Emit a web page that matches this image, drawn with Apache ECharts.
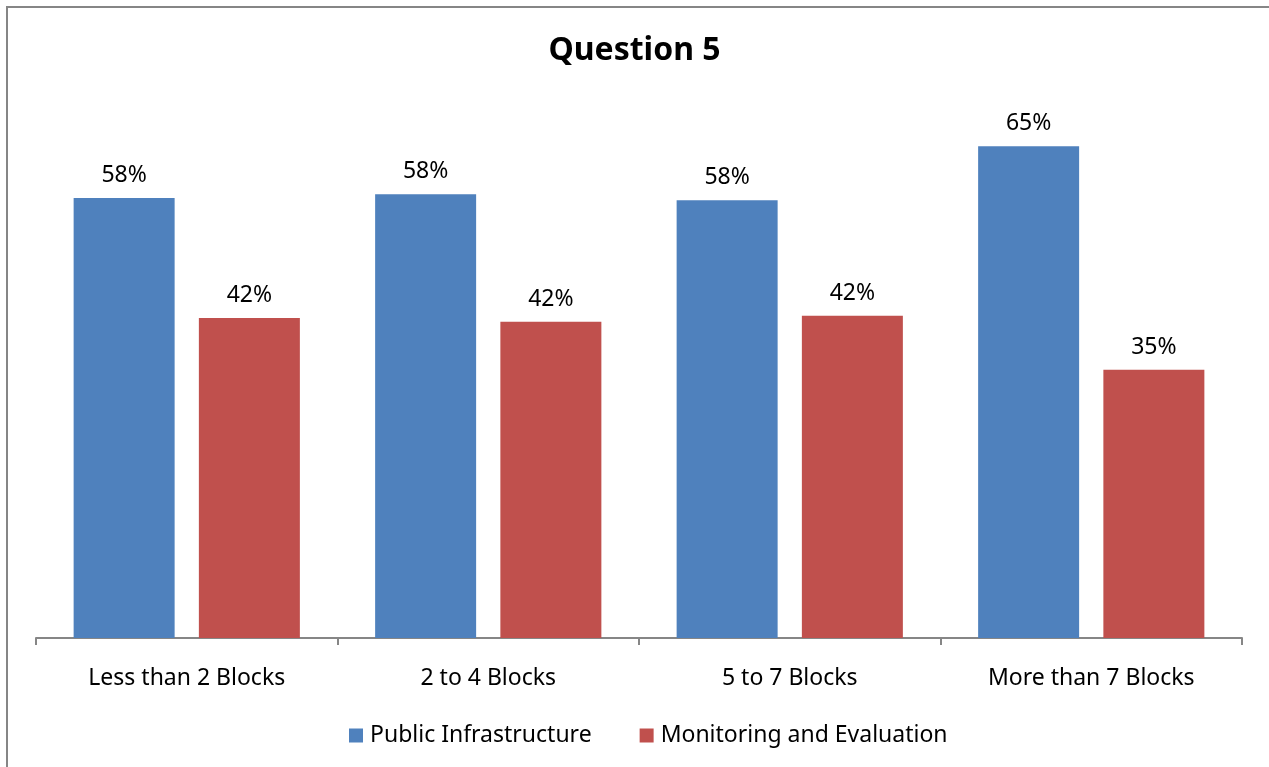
<!DOCTYPE html>
<html>
<head>
<meta charset="utf-8">
<script src="https://cdn.jsdelivr.net/npm/echarts@6/dist/echarts.min.js"></script>
<style>
  html, body { margin: 0; padding: 0; background: #fff; }
  #chart { width: 1269px; height: 767px; }
</style>
</head>
<body>
<div id="chart"></div>
<script>
// categories and series values (percent)
const categories = ['Less than 2 Blocks', '2 to 4 Blocks', '5 to 7 Blocks', 'More than 7 Blocks']
const publicInfra = [57.9, 58.4, 57.6, 64.7]
const monitoring = [42.1, 41.6, 42.4, 35.3]
const seriesNames = ['Public Infrastructure', 'Monitoring and Evaluation']

const chart = echarts.init(document.getElementById('chart'))
const font = 'Noto Sans'

const option = {
  animation: false,
  graphic: [{
    type: 'rect',
    shape: { x: 7, y: 7, width: 1300, height: 800 },
    style: { fill: 'none', stroke: '#868686', lineWidth: 2 },
    silent: true
  }],
  title: {
    text: 'Question 5',
    left: 'center',
    top: 30,
    textStyle: { fontFamily: font, fontSize: 32, fontWeight: 'bold', color: '#000' }
  },
  grid: { left: 36, right: 27, top: 106, bottom: 129, containLabel: false },
  legend: {
    data: seriesNames,
    left: 344,
    top: 719,
    icon: 'rect',
    itemWidth: 14,
    itemHeight: 14,
    itemGap: 48,
    textStyle: { fontFamily: font, fontSize: 23, color: '#000', padding: [0, 0, 0, 2] }
  },
  xAxis: {
    type: 'category',
    data: categories,
    axisLine: { lineStyle: { color: '#868686', width: 2 } },
    axisTick: { show: true, length: 7, lineStyle: { color: '#868686', width: 2 } },
    axisLabel: { fontFamily: font, fontSize: 23, color: '#000', margin: 29 }
  },
  yAxis: {
    type: 'value',
    min: 0,
    max: 70,
    show: false,
    splitLine: { show: false }
  },
  series: [
    {
      name: seriesNames[0],
      type: 'bar',
      data: publicInfra,
      barWidth: 101,
      barGap: '24%',
      itemStyle: { color: '#4F81BD' },
      label: {
        show: true, position: 'top', distance: 11,
        formatter: p => Math.round(p.value) + '%',
        fontFamily: font, fontSize: 23, color: '#000'
      }
    },
    {
      name: seriesNames[1],
      type: 'bar',
      data: monitoring,
      barWidth: 101,
      barGap: '24%',
      itemStyle: { color: '#C0504D' },
      label: {
        show: true, position: 'top', distance: 11,
        formatter: p => Math.round(p.value) + '%',
        fontFamily: font, fontSize: 23, color: '#000'
      }
    }
  ]
}
chart.setOption(option)
</script>
</body>
</html>
